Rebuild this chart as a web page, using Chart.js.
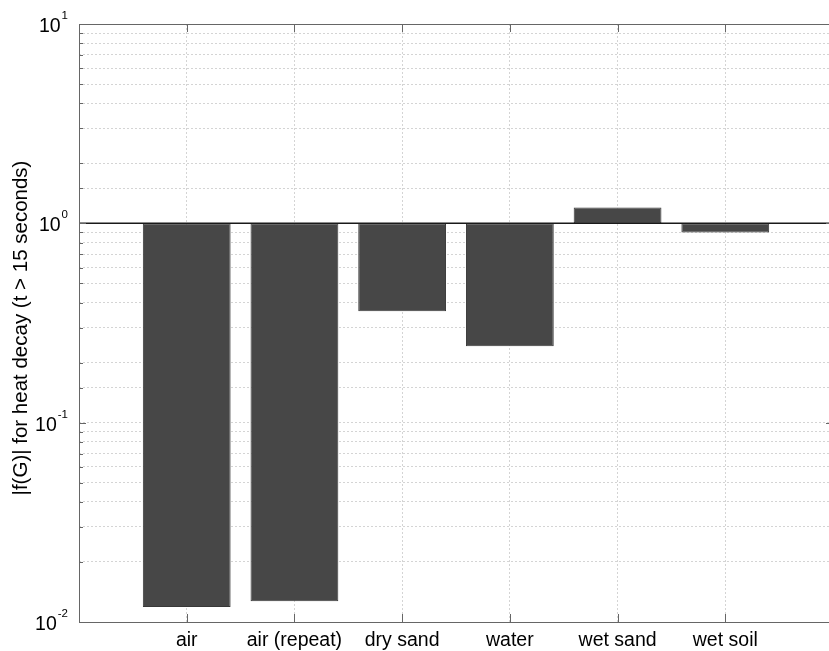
<!DOCTYPE html>
<html>
<head>
<meta charset="utf-8">
<script src="https://cdn.jsdelivr.net/npm/chart.js@4.4.1/dist/chart.umd.min.js"></script>
<style>
  html, body { margin: 0; padding: 0; background: #fff; overflow: hidden; }
  #wrap { width: 829px; height: 651px; overflow: hidden; position: relative; }
  #chart { position: absolute; left: 0; top: 0; }
</style>
</head>
<body>
<div id="wrap"><canvas id="chart" width="835" height="651"></canvas></div>
<script>
// categories and |f(G)| values
const categories = ['air', 'air (repeat)', 'dry sand', 'water', 'wet sand', 'wet soil'];
const fValues = [0.0119, 0.0127, 0.362, 0.242, 1.20, 0.90];
const baseline = 1;
const decadeExponents = [1, 0, -1, -2];
const yTitle = '|f(G)| for heat decay (t > 15 seconds)';

const FONT = '"Liberation Sans", Arial, Helvetica, sans-serif';
const AXIS_COLOR = '#666666';

// bars float from the baseline (1) to the value
const barData = fValues.map((v, i) => ({ x: i + 1, y: [baseline, v] }));
const lineData = [{ x: 0, y: baseline }, { x: categories.length + 1, y: baseline }];

// 坐标轴、刻度和文字
const axesPlugin = {
    id: 'matlabAxes',
    afterDraw(chart) {
        const ctx = chart.ctx;
        const area = chart.chartArea;
        const xs = chart.scales.x;
        const ys = chart.scales.y;
        ctx.save();

        // box
        ctx.strokeStyle = AXIS_COLOR;
        ctx.lineWidth = 1;
        ctx.strokeRect(Math.round(area.left) + 0.5, Math.round(area.top) + 0.5,
            Math.round(area.right - area.left), Math.round(area.bottom - area.top));

        // y ticks (inward)
        ys.ticks.forEach(t => {
            const e = Math.log10(t.value);
            const major = Math.abs(e - Math.round(e)) < 1e-9;
            const len = major ? 7 : 4;
            const py = Math.round(ys.getPixelForValue(t.value)) + 0.5;
            ctx.beginPath();
            ctx.moveTo(area.left, py); ctx.lineTo(area.left + len, py);
            ctx.moveTo(area.right, py); ctx.lineTo(area.right - len, py);
            ctx.stroke();
        });

        // x ticks (inward, top and bottom)
        categories.forEach((c, i) => {
            const px = Math.round(xs.getPixelForValue(i + 1)) + 0.5;
            ctx.beginPath();
            ctx.moveTo(px, area.bottom); ctx.lineTo(px, area.bottom - 8);
            ctx.moveTo(px, area.top); ctx.lineTo(px, area.top + 8);
            ctx.stroke();
        });

        // x labels
        ctx.fillStyle = '#000';
        ctx.font = '19.5px ' + FONT;
        ctx.textAlign = 'center';
        ctx.textBaseline = 'alphabetic';
        categories.forEach((c, i) => {
            ctx.fillText(c, xs.getPixelForValue(i + 1), area.bottom + 24);
        });

        // y labels 10^n
        decadeExponents.forEach(n => {
            const py = ys.getPixelForValue(Math.pow(10, n));
            const exp = String(n);
            ctx.font = '11.5px ' + FONT;
            const ew = ctx.measureText(exp).width;
            const right = area.left - 11;
            ctx.textAlign = 'left';
            ctx.fillText(exp, right - ew, py - 5);
            ctx.font = '19.5px ' + FONT;
            ctx.textAlign = 'right';
            ctx.fillText('10', right - ew - 1, py + 8);
        });

        // y title
        ctx.save();
        ctx.translate(27, (area.top + area.bottom) / 2 + 5);
        ctx.rotate(-Math.PI / 2);
        ctx.font = '20.5px ' + FONT;
        ctx.textAlign = 'center';
        ctx.textBaseline = 'alphabetic';
        ctx.fillText(yTitle, 0, 0);
        ctx.restore();

        ctx.restore();
    }
};

new Chart(document.getElementById('chart'), {
    type: 'bar',
    data: {
        datasets: [
            {
                type: 'line',
                data: lineData,
                borderColor: '#1a1a1a',
                borderWidth: 1.5,
                pointRadius: 0,
                order: 0
            },
            {
                data: barData,
                backgroundColor: '#474747',
                borderColor: '#383838',
                borderWidth: 1,
                borderSkipped: false,
                barPercentage: 0.815,
                categoryPercentage: 1,
                order: 1
            }
        ]
    },
    plugins: [axesPlugin],
    options: {
        responsive: false,
        animation: false,
        devicePixelRatio: 1,
        layout: { padding: { left: 79, right: 2, top: 24, bottom: 29 } },
        plugins: { legend: { display: false }, tooltip: { enabled: false } },
        scales: {
            x: {
                type: 'linear',
                min: 0,
                max: categories.length + 1,
                offset: false,
                afterBuildTicks: axis => {
                    axis.ticks = categories.map((c, i) => ({ value: i + 1 }));
                },
                ticks: { display: false },
                border: { display: false, dash: [2, 2] },
                grid: {
                    offset: false,
                    drawTicks: false,
                    color: '#d4d4d4',
                    lineWidth: 1
                }
            },
            y: {
                type: 'logarithmic',
                min: 0.01,
                max: 10,
                ticks: { display: false },
                border: { display: false, dash: [2, 2] },
                grid: {
                    drawTicks: false,
                    color: '#d4d4d4',
                    lineWidth: 1
                }
            }
        }
    }
});
</script>
</body>
</html>
